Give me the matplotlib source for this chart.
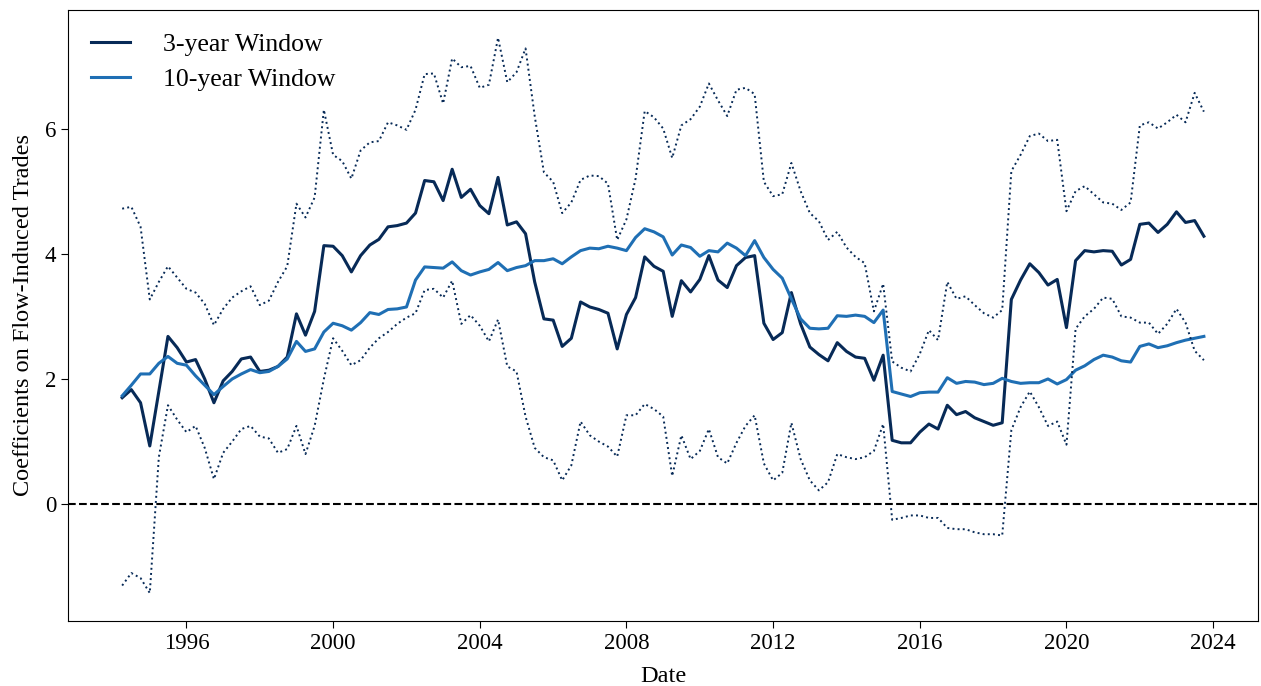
import matplotlib
matplotlib.use("Agg")
import matplotlib.pyplot as plt
import matplotlib.dates as mdates
import pandas as pd

plt.rcParams['font.family'] = ['Liberation Serif', 'DejaVu Serif']

# quarterly dates, 1994Q1 .. 2023Q3
dates = pd.period_range('1994Q1', '2023Q3', freq='Q').to_timestamp(how='end')

win3 = [1.70, 1.83, 1.62, 0.93, 1.80, 2.68, 2.50, 2.27, 2.31, 2.00,
        1.62, 1.97, 2.12, 2.32, 2.35, 2.12, 2.14, 2.20, 2.35, 3.04,
        2.70, 3.08, 4.13, 4.12, 3.97, 3.71, 3.97, 4.14, 4.23, 4.43,
        4.45, 4.49, 4.65, 5.17, 5.15, 4.85, 5.35, 4.90, 5.03, 4.77,
        4.64, 5.22, 4.46, 4.51, 4.32, 3.55, 2.96, 2.94, 2.52, 2.65,
        3.23, 3.15, 3.11, 3.05, 2.48, 3.03, 3.30, 3.95, 3.80, 3.72,
        3.00, 3.57, 3.39, 3.59, 3.97, 3.58, 3.46, 3.81, 3.94, 3.97,
        2.89, 2.63, 2.74, 3.38, 2.88, 2.51, 2.39, 2.29, 2.58, 2.44,
        2.35, 2.33, 1.98, 2.38, 1.02, 0.98, 0.98, 1.15, 1.28, 1.20,
        1.58, 1.43, 1.48, 1.38, 1.32, 1.26, 1.30, 3.27, 3.58, 3.84,
        3.70, 3.50, 3.59, 2.82, 3.89, 4.05, 4.03, 4.05, 4.04, 3.82,
        3.91, 4.47, 4.49, 4.34, 4.47, 4.67, 4.50, 4.53, 4.28]

win10 = [1.73, 1.90, 2.08, 2.08, 2.25, 2.36, 2.25, 2.22, 2.05, 1.90,
         1.75, 1.88, 2.00, 2.08, 2.15, 2.10, 2.12, 2.20, 2.32, 2.60,
         2.44, 2.48, 2.75, 2.89, 2.85, 2.78, 2.90, 3.06, 3.03, 3.11,
         3.12, 3.15, 3.58, 3.79, 3.78, 3.77, 3.87, 3.73, 3.66, 3.71,
         3.75, 3.86, 3.73, 3.78, 3.81, 3.89, 3.89, 3.92, 3.84, 3.95,
         4.05, 4.09, 4.08, 4.12, 4.09, 4.05, 4.26, 4.40, 4.35, 4.27,
         3.98, 4.14, 4.10, 3.96, 4.05, 4.03, 4.17, 4.09, 3.97, 4.21,
         3.94, 3.75, 3.61, 3.28, 2.96, 2.81, 2.80, 2.81, 3.01, 3.00,
         3.02, 3.00, 2.90, 3.10, 1.80, 1.76, 1.72, 1.78, 1.79, 1.79,
         2.02, 1.93, 1.96, 1.95, 1.91, 1.93, 2.01, 1.96, 1.93, 1.94,
         1.94, 2.00, 1.92, 1.99, 2.14, 2.21, 2.31, 2.38, 2.35, 2.29,
         2.27, 2.52, 2.56, 2.50, 2.53, 2.58, 2.62, 2.65, 2.68]

# confidence band of the 3-year estimate
win3_hi = [4.72, 4.75, 4.43, 3.27, 3.55, 3.80, 3.62, 3.44, 3.38, 3.20,
           2.86, 3.12, 3.30, 3.40, 3.48, 3.18, 3.25, 3.55, 3.80, 4.80,
           4.58, 4.90, 6.30, 5.58, 5.48, 5.20, 5.65, 5.78, 5.80, 6.10,
           6.05, 5.98, 6.30, 6.87, 6.88, 6.40, 7.12, 6.98, 7.00, 6.65,
           6.70, 7.45, 6.74, 6.90, 7.28, 6.20, 5.30, 5.15, 4.65, 4.82,
           5.18, 5.25, 5.24, 5.12, 4.22, 4.55, 5.20, 6.28, 6.18, 6.00,
           5.53, 6.05, 6.15, 6.35, 6.72, 6.45, 6.20, 6.62, 6.65, 6.55,
           5.15, 4.92, 4.95, 5.45, 5.00, 4.65, 4.52, 4.22, 4.35, 4.10,
           3.95, 3.85, 3.08, 3.52, 2.28, 2.18, 2.12, 2.40, 2.78, 2.62,
           3.55, 3.28, 3.32, 3.18, 3.05, 2.98, 3.10, 5.32, 5.58, 5.88,
           5.92, 5.80, 5.82, 4.68, 5.00, 5.08, 4.95, 4.82, 4.80, 4.70,
           4.82, 6.05, 6.10, 6.00, 6.10, 6.22, 6.10, 6.57, 6.27]

win3_lo = [-1.30, -1.10, -1.18, -1.42, 0.75, 1.58, 1.35, 1.15, 1.25, 0.90,
           0.40, 0.82, 1.00, 1.20, 1.25, 1.08, 1.05, 0.82, 0.88, 1.25,
           0.80, 1.25, 2.00, 2.65, 2.45, 2.22, 2.30, 2.50, 2.65, 2.75,
           2.88, 2.98, 3.05, 3.42, 3.44, 3.30, 3.57, 2.88, 3.02, 2.85,
           2.60, 2.95, 2.20, 2.12, 1.40, 0.90, 0.75, 0.70, 0.38, 0.62,
           1.32, 1.10, 1.00, 0.92, 0.76, 1.42, 1.42, 1.60, 1.52, 1.40,
           0.45, 1.10, 0.72, 0.85, 1.20, 0.75, 0.65, 0.98, 1.25, 1.42,
           0.65, 0.38, 0.50, 1.30, 0.72, 0.38, 0.22, 0.35, 0.80, 0.75,
           0.72, 0.75, 0.85, 1.28, -0.25, -0.22, -0.18, -0.18, -0.22, -0.22,
           -0.38, -0.40, -0.40, -0.45, -0.48, -0.48, -0.50, 1.18, 1.55, 1.80,
           1.55, 1.25, 1.32, 0.95, 2.80, 3.00, 3.12, 3.30, 3.28, 3.00,
           2.98, 2.90, 2.90, 2.72, 2.88, 3.12, 2.90, 2.45, 2.30]

dark = '#072a57'
mid = '#1f6fb4'

fig = plt.figure(figsize=(12.61, 6.86), dpi=100)
ax = fig.add_axes([0.054, 0.095, 0.9436, 0.8904])

ax.plot(dates, win3, color=dark, lw=2.2, label='3-year Window')
ax.plot(dates, win10, color=mid, lw=2.2, label='10-year Window')
ax.plot(dates, win3_hi, color=dark, lw=1.4, ls=':')
ax.plot(dates, win3_lo, color=dark, lw=1.4, ls=':')
ax.axhline(0, color='black', lw=1.5, ls='--')

ax.xaxis.set_major_locator(mdates.YearLocator(4))
ax.xaxis.set_major_formatter(mdates.DateFormatter('%Y'))
ax.set_yticks([0, 2, 4, 6])
ax.tick_params(labelsize=16.5, length=5)

ax.set_xlabel('Date', fontsize=17.5, labelpad=9)
ax.set_ylabel('Coefficients on Flow-Induced Trades', fontsize=17.5, labelpad=8)

ax.legend(loc='upper left', frameon=False, fontsize=18.5,
          handlelength=1.5, handletextpad=1.3, labelspacing=0.45)

fig.savefig('out.png', dpi=100)
